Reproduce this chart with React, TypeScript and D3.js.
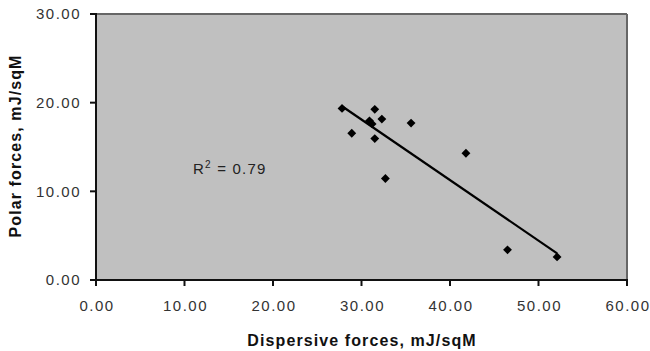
import React from "react";
import * as d3 from "d3";

const dispersive = [27.8, 31.5, 32.3, 30.9, 31.2, 28.9, 31.5, 35.6, 32.7, 41.8, 46.5, 52.1];
const polar = [19.35, 19.25, 18.15, 17.95, 17.6, 16.55, 15.95, 17.7, 11.45, 14.3, 3.4, 2.6];
const xTicks = [0, 10, 20, 30, 40, 50, 60];
const yTicks = [0, 10, 20, 30];
const r2Label = "0.79";

const W = 650;
const H = 351;
const L = 96, R = 627, T = 14, B = 280;

export default function App() {
  const x = d3.scaleLinear().domain([0, 60]).range([L, R]);
  const y = d3.scaleLinear().domain([0, 30]).range([B, T]);

  const mx = d3.mean(dispersive)!;
  const my = d3.mean(polar)!;
  let sxy = 0, sxx = 0;
  dispersive.forEach((v, i) => {
    sxy += (v - mx) * (polar[i] - my);
    sxx += (v - mx) * (v - mx);
  });
  const slope = sxy / sxx;
  const icpt = my - slope * mx;
  const x0 = d3.min(dispersive)!;
  const x1 = d3.max(dispersive)!;
  const line = d3.line<number>().x((d) => x(d)).y((d) => y(icpt + slope * d));

  const diamond = d3.symbol().type(d3.symbolDiamond2).size(50)();
  const font = "'Liberation Sans', Arial, sans-serif";

  return (
    <svg width={W} height={H} style={{ position: "absolute", left: 0, top: 0, background: "#fff" }} fontFamily={font}>
      <rect x={L} y={T} width={R - L} height={B - T} fill="#c0c0c0" />
      <line x1={L} x2={R} y1={T} y2={T} stroke="#666" strokeWidth={2} />
      <line x1={R} x2={R} y1={T} y2={B} stroke="#666" strokeWidth={2} />
      <line x1={L} x2={L} y1={T - 1} y2={B + 1} stroke="#111" strokeWidth={2} />
      <line x1={L - 1} x2={R + 1} y1={B} y2={B} stroke="#111" strokeWidth={2} />
      {yTicks.map((t) => (
        <g key={"y" + t}>
          <line x1={L - 6} x2={L} y1={y(t)} y2={y(t)} stroke="#111" strokeWidth={2} />
          <text x={L - 15} y={y(t)} dy="0.35em" textAnchor="end" fontSize={15} letterSpacing={1.5} fill="#333">
            {t.toFixed(2)}
          </text>
        </g>
      ))}
      {xTicks.map((t) => (
        <g key={"x" + t}>
          <line x1={x(t)} x2={x(t)} y1={B} y2={B + 6} stroke="#111" strokeWidth={2} />
          <text x={x(t) + 1} y={311} textAnchor="middle" fontSize={15} letterSpacing={1.5} fill="#333">
            {t.toFixed(2)}
          </text>
        </g>
      ))}
      <path d={line([x0, x1])!} stroke="#000" strokeWidth={2.2} fill="none" />
      {dispersive.map((d, i) => (
        <path key={i} d={diamond} transform={`translate(${x(d)},${y(polar[i])})`} fill="#000" />
      ))}
      <text x={193} y={174} fontSize={15} letterSpacing={1.2} fill="#222">
        R<tspan fontSize={10} dy={-6}>2</tspan>
        <tspan dy={6}> = {r2Label}</tspan>
      </text>
      <text x={362} y={346} textAnchor="middle" fontSize={16} fontWeight="bold" letterSpacing={1.1} fill="#111">
        Dispersive forces, mJ/sqM
      </text>
      <text transform="translate(21,146) rotate(-90)" textAnchor="middle" fontSize={16} fontWeight="bold" letterSpacing={1.1} fill="#111">
        Polar forces, mJ/sqM
      </text>
    </svg>
  );
}
